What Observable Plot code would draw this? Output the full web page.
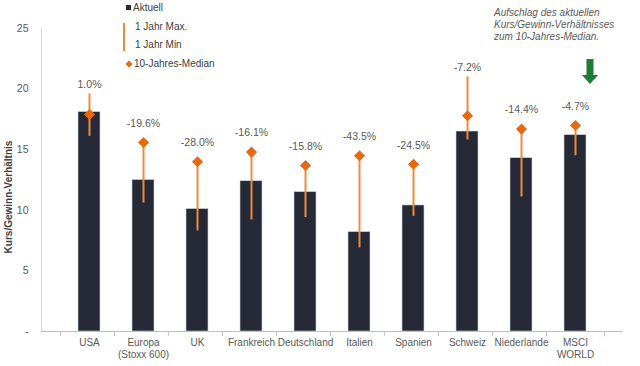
<!DOCTYPE html>
<html>
<head>
<meta charset="utf-8">
<script src="https://cdn.jsdelivr.net/npm/d3@7"></script>
<script src="https://cdn.jsdelivr.net/npm/@observablehq/plot@0.6"></script>
<style>
  body { margin: 0; background: #fff; font-family: "Liberation Sans", Arial, sans-serif; }
  #wrap { position: relative; width: 640px; height: 366px; overflow: hidden; }
  #wrap svg.plot { position: absolute; left: 0; top: 0; }
  .lg { position: absolute; font-size: 10px; color: #404040; line-height: 12px; white-space: nowrap; }
  .note { position: absolute; left: 494px; top: 7px; font-size: 10px; font-style: italic; color: #595959; line-height: 12.2px; white-space: nowrap; }
</style>
</head>
<body>
<div id="wrap"></div>
<script>
const countries = ["USA", "Europa\n(Stoxx 600)", "UK", "Frankreich", "Deutschland", "Italien", "Spanien", "Schweiz", "Niederlande", "MSCI\nWORLD"];
const current   = [18.1, 12.5, 10.1, 12.4, 11.5, 8.2, 10.4, 16.5, 14.3, 16.2];
const yearMax   = [19.6, 15.6, 14.0, 14.8, 13.7, 14.5, 13.8, 21.0, 16.7, 17.3];
const yearMin   = [16.1, 10.6, 8.3, 9.2, 9.4, 6.9, 9.5, 15.8, 11.1, 14.5];
const median    = [17.9, 15.6, 14.0, 14.8, 13.7, 14.5, 13.8, 17.8, 16.7, 17.0];
const premium   = [1.0, -19.6, -28.0, -16.1, -15.8, -43.5, -24.5, -7.2, -14.4, -4.7];
const yTicks    = [0, 5, 10, 15, 20, 25];

const data = countries.map((c, i) => ({
  country: c, current: current[i], max: yearMax[i], min: yearMin[i],
  median: median[i], premium: premium[i]
}));
const above = data.filter(d => d.max > d.median + 1);
const atMedian = data.filter(d => !(d.max > d.median + 1));

const W = 640, H = 366, mL = 41, mR = 17, mT = 28, mB = 35;
const halfBand = (W - mL - mR) / countries.length / 2;

const plot = Plot.plot({
  width: W, height: H,
  marginLeft: mL, marginRight: mR, marginTop: mT, marginBottom: mB,
  style: { fontFamily: "Liberation Sans, Arial, sans-serif", fontSize: "10px", color: "#595959", background: "#fff" },
  x: { domain: countries, padding: 0.6, axis: null },
  y: { domain: [0, 25], axis: null },
  marks: [
    Plot.frame({ anchor: "left", stroke: "#d9d9d9" }),
    Plot.axisY({ ticks: yTicks, tickSize: 0, tickPadding: 13, tickFormat: d => d === 0 ? "-" : d, fill: "#595959", fontSize: 10.5, label: null }),
    Plot.barY(data, { x: "country", y: "current", fill: "#252a36", stroke: "#d0d3d8", strokeWidth: 0.6 }),
    Plot.ruleY([0], { stroke: "#bfbfbf" }),
    Plot.ruleX(countries, { x: d => d, dx: -halfBand, y1: 0, y2: 0, insetBottom: -5, stroke: "#bfbfbf" }),
    Plot.ruleX(countries.slice(-1), { x: d => d, dx: halfBand, y1: 0, y2: 0, insetBottom: -5, stroke: "#bfbfbf" }),
    Plot.axisX({ tickSize: 0, tickPadding: 6, lineHeight: 1.2, fill: "#595959", fontSize: 10, label: null }),
    Plot.ruleX(data, { x: "country", y1: "min", y2: "max", stroke: "#ee8b3f", strokeWidth: 2 }),
    Plot.dot(data, { x: "country", y: "median", symbol: "diamond2", r: 5, fill: "#e8680f", stroke: "none" }),
    Plot.text(above, { x: "country", y: "max", dy: -9, text: d => d.premium.toFixed(1) + "%", fill: "#595959", fontSize: 10.5 }),
    Plot.text(atMedian, { x: "country", y: "median", dy: -19, text: d => d.premium.toFixed(1) + "%", fill: "#595959", fontSize: 10.5 })
  ]
});
plot.classList.add("plot");
const wrap = document.getElementById("wrap");
wrap.appendChild(plot);

// legend, axis title and annotation overlay
wrap.insertAdjacentHTML("beforeend", `
  <div class="lg" style="left:126px;top:2px;"><span style="display:inline-block;width:5px;height:5px;background:#252a36;margin-right:2px;vertical-align:1px;"></span>Aktuell</div>
  <svg style="position:absolute;left:0;top:0;" width="640" height="366">
    <line x1="124" x2="124" y1="23" y2="51" stroke="#ee8b3f" stroke-width="2"/>
    <path d="M129,60.5 L132.5,64 L129,67.5 L125.5,64 Z" fill="#e8680f"/>
    <path d="M586.5,59 L593.5,59 L593.5,75 L598,75 L590,84 L582,75 L586.5,75 Z" fill="#1f7a35"/>
    <text transform="translate(12,197) rotate(-90)" text-anchor="middle" font-family="Liberation Sans, Arial, sans-serif" font-size="10" font-weight="bold" fill="#404040">Kurs/Gewinn-Verhältnis</text>
  </svg>
  <div class="lg" style="left:135px;top:21px;">1 Jahr Max.</div>
  <div class="lg" style="left:135px;top:39px;">1 Jahr Min</div>
  <div class="lg" style="left:134px;top:58px;">10-Jahres-Median</div>
  <div class="note">Aufschlag des aktuellen<br>Kurs/Gewinn-Verhältnisses<br>zum 10-Jahres-Median.</div>
`);
</script>
</body>
</html>
